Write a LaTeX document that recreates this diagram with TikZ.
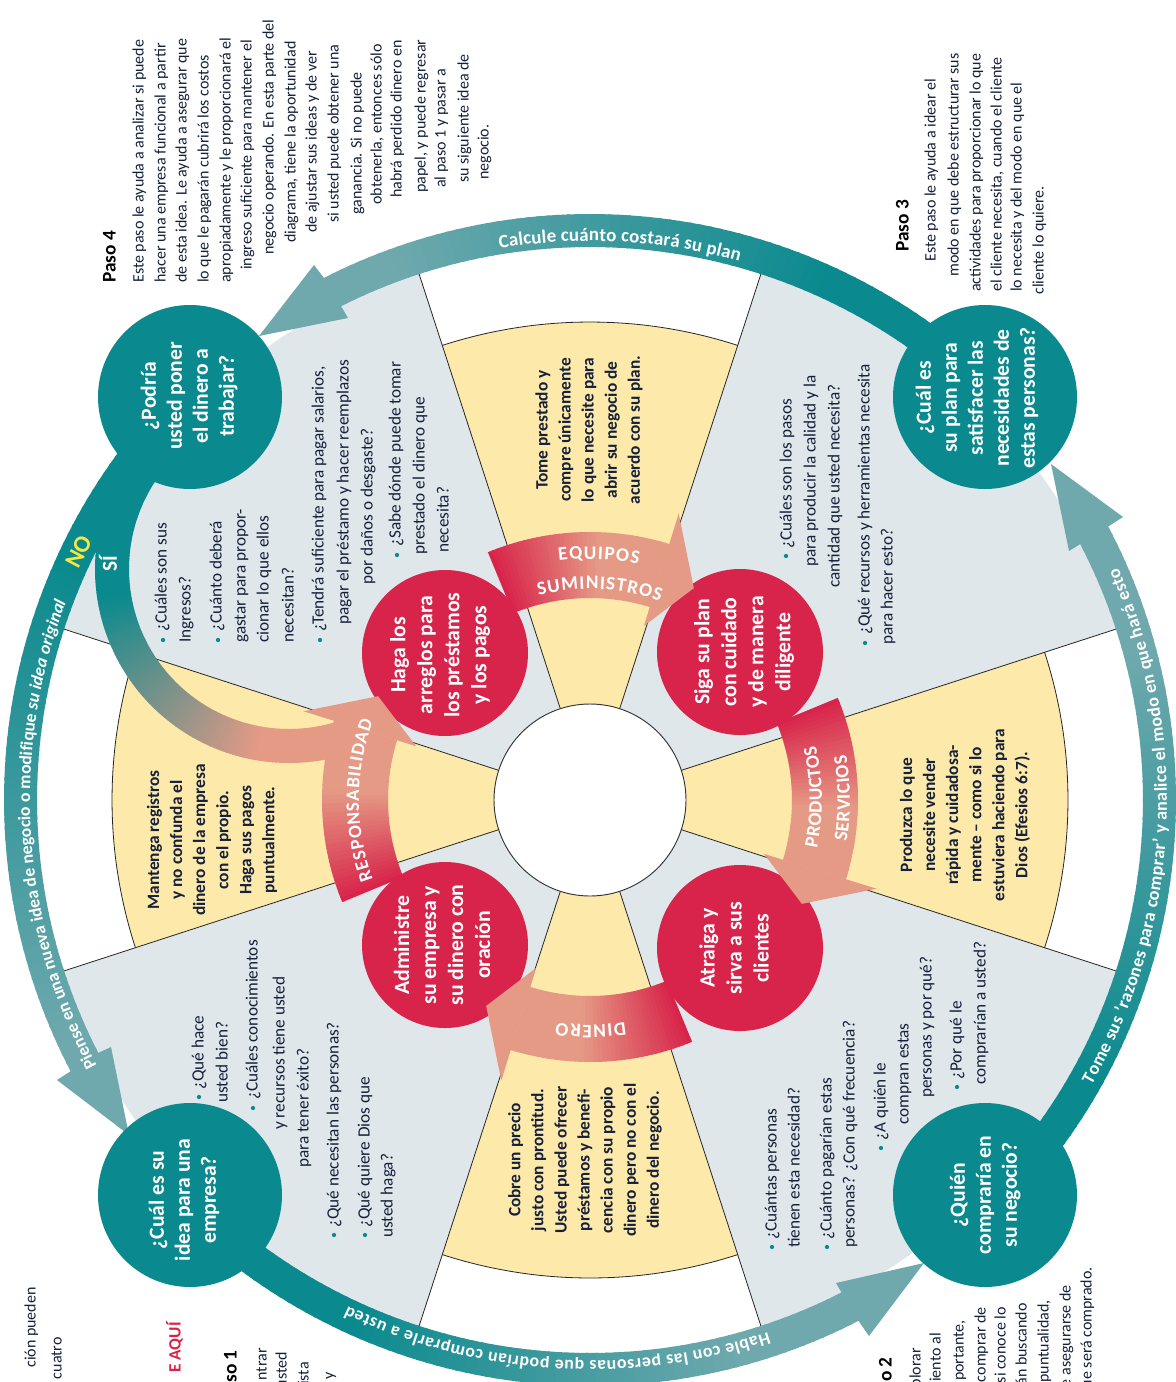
\documentclass[tikz,border=0pt]{standalone}
\usepackage{fontspec}
\setmainfont{Carlito}
\usetikzlibrary{decorations.text}
\definecolor{tealD}{HTML}{0A8A8E}
\definecolor{tealL}{HTML}{6FA9AE}
\definecolor{greyS}{HTML}{DFE7EB}
\definecolor{yellS}{HTML}{FDE9A9}
\definecolor{redC}{HTML}{D8244A}
\definecolor{salm}{HTML}{E59A85}
\definecolor{ink}{HTML}{15203A}
\definecolor{noY}{HTML}{F6E83C}
\def\ccx{590}
\def\ccy{800}
\newcount\lnum
% gradient band: r1 r2 a1 a2 g1 g2 c1 c2
\newcommand\gband[8]{%
  \pgfmathsetmacro\gA{#3}\pgfmathsetmacro\gB{#4}%
  \pgfmathsetmacro\gN{int(ceil(abs(\gB-\gA)))}%
  \pgfmathsetmacro\gD{(\gB-\gA)/\gN}%
  \pgfmathsetmacro\gP{#5}\pgfmathsetmacro\gQ{#6}%
  \foreach \gi in {1,...,\gN}{%
    \pgfmathsetmacro\gaa{\gA+(\gi-1)*\gD}%
    \pgfmathsetmacro\gbb{\gaa+1.25*\gD}%
    \pgfmathsetmacro\gmm{min(100,max(0,100*(\gaa-\gP)/(\gQ-\gP)))}%
    \fill[fill={#8!\gmm!#7}]
      ({\ccx+#1*cos(\gaa)},{\ccy+#1*sin(\gaa)}) --
      ({\ccx+#2*cos(\gaa)},{\ccy+#2*sin(\gaa)}) --
      ({\ccx+#2*cos(\gbb)},{\ccy+#2*sin(\gbb)}) --
      ({\ccx+#1*cos(\gbb)},{\ccy+#1*sin(\gbb)}) -- cycle;
  }}
\newcommand\salarrow[1]{%
  \gband{202}{268}{#1}{#1+39.4}{#1}{#1+24}{redC}{salm}%
  \fill[salm] ({\ccx+182*cos(#1+39.6)},{\ccy+182*sin(#1+39.6)}) --
    ({\ccx+236*cos(#1+48.5)},{\ccy+236*sin(#1+48.5)}) --
    ({\ccx+300*cos(#1+39.6)},{\ccy+300*sin(#1+39.6)}) -- cycle;}
\newcommand\arctxt[5]{%
  \path[decorate,decoration={text along path,text align={fit to path},
     text={|#4|#5}}]
     plot[domain=#2:#3,samples=90] ({\ccx+#1*cos(\x)},{\ccy+#1*sin(\x)});}
\newcommand\sector[2]{%
  \fill[#2] (\ccx,\ccy) -- plot[domain=#1-18:#1+18,samples=40] ({\ccx+478*cos(\x)},{\ccy+478*sin(\x)}) -- cycle;
  \draw[hair] plot[domain=#1-18:#1+18,samples=40] ({\ccx+478*cos(\x)},{\ccy+478*sin(\x)});}
\newcommand\corner[1]{%
  \fill[greyS] (\ccx,\ccy) -- plot[domain=#1-27:#1+27,samples=50] ({\ccx+556*cos(\x)},{\ccy+556*sin(\x)}) -- cycle;}
\newcommand\spoke[1]{\draw[hair] ({\ccx+90*cos(#1)},{\ccy+90*sin(#1)}) -- ({\ccx+556*cos(#1)},{\ccy+556*sin(#1)});}
% one printed line: x (centre), y (start), text
\newcommand\tl[4][body]{\global\advance\lnum by 1
  \node[#1,anchor=west] (ln\the\lnum) at (#2,#3) {#4};}
\newcommand\lin[3]{\tl[lst]{#1}{#2}{#3}}
% one printed line fixed by its end
\newcommand\te[4][body]{\global\advance\lnum by 1
  \node[#1,anchor=east] (ln\the\lnum) at (#2,#3) {#4};}
\newcommand\bul[2]{\fill[tealD] (#1,#2) circle (1.6pt);}
\tikzset{
  hair/.style={draw=black!85,line width=0.6pt},
  body/.style={rotate=90,inner sep=0pt,text=ink,font=\fontsize{12}{14}\selectfont,text height=8pt,text depth=2.5pt},
  lst/.style={body,font=\fontsize{12.9}{14}\selectfont},
  headg/.style={body,font=\fontsize{14.5}{16}\selectfont\bfseries,text=black},
  redtx/.style={body,font=\fontsize{13}{15}\selectfont\bfseries,text=redC},
  tealc/.style={circle,fill=tealD,minimum size=138pt,inner sep=0pt},
  tealt/.style={rotate=90,inner sep=0pt,align=center,text=white,font=\fontsize{16.2}{19.5}\selectfont\bfseries},
  redc/.style={circle,fill=redC,minimum size=124.5pt,inner sep=0pt},
  redt/.style={rotate=90,inner sep=0pt,align=center,text=white,font=\fontsize{16.3}{20.25}\selectfont\bfseries},
  yelltx/.style={rotate=90,align=center,inner sep=0pt,text=ink,font=\fontsize{13}{17.3}\selectfont\bfseries},
}
\begin{document}
\begin{tikzpicture}[x=0.75pt,y=-0.75pt]
\useasboundingbox (0,0) rectangle (1176,1382);
\clip (0,0) rectangle (1176,1382);
\fill[white] (0,0) rectangle (1176,1382);
% sectors
\corner{225}\corner{315}\corner{45}\corner{135}
\sector{270}{yellS}\sector{0}{yellS}\sector{90}{yellS}\sector{180}{yellS}
\foreach \a in {18,72,108,162,198,252,288,342}{\spoke{\a}}
\node[circle,fill=white,draw=black!80,line width=0.7pt,minimum size=144pt,inner sep=0pt] (hub) at (\ccx,\ccy) {};
% outer ring
\gband{553}{586}{314}{243}{295}{250}{tealD}{tealL}
\gband{553}{586}{225}{152.4}{205}{155}{tealD}{tealL}
\gband{553}{586}{135}{62.7}{115}{75}{tealD}{tealL}
\gband{553}{586}{45}{-27.8}{30}{-15}{tealD}{tealL}
\coordinate (t1) at (259,336);\coordinate (w1a) at (314,265);\coordinate (n1a) at (324,278);\coordinate (n1b) at (341,306);\coordinate (w1b) at (348,318);
\fill[tealL] (t1) -- (w1a) -- (n1a) -- (n1b) -- (w1b) -- cycle;
\coordinate (t2) at (129,1135);\coordinate (w2a) at (57,1080);\coordinate (n2a) at (71,1071);\coordinate (n2b) at (98,1053);\coordinate (w2b) at (111,1047);
\fill[tealL] (t2) -- (w2a) -- (n2a) -- (n2b) -- (w2b) -- cycle;
\coordinate (t3) at (924,1263);\coordinate (w3a) at (869,1336);\coordinate (n3a) at (860,1323);\coordinate (n3b) at (843,1295);\coordinate (w3b) at (836,1283);
\fill[tealL] (t3) -- (w3a) -- (n3a) -- (n3b) -- (w3b) -- cycle;
\coordinate (t4) at (1051,464);\coordinate (w4a) at (1123,517);\coordinate (n4a) at (1109,526);\coordinate (n4b) at (1082,543);\coordinate (w4b) at (1069,551);
\fill[tealL] (t4) -- (w4a) -- (n4a) -- (n4b) -- (w4b) -- cycle;
% SI band
\begin{scope}
\def\ccx{289}\def\ccy{569}
\gband{160}{194}{225}{72}{172}{100}{tealD}{salm}
\end{scope}
% teal circles
\node[tealc] (q4) at (190,397) {};
\node[tealc] (q3) at (985,397) {};
\node[tealc] (q1) at (190,1195) {};
\node[tealc] (q2) at (985,1195) {};
\node[tealt] (q4t) at (189,396) {¿Podría\\usted poner\\el dinero a\\trabajar?};
\node[tealt] (q3t) at (977,398) {¿Cuál es\\su plan para\\satisfacer las\\necesidades de\\estas personas?};
\node[tealt] (q1t) at (184,1200) {¿Cuál es su\\idea para una\\empresa?};
\node[tealt] (q2t) at (985,1195) {¿Quién\\compraría en\\su negocio?};
% red circles
\node[redc] (r1) at (445,653) {};
\node[redc] (r2) at (740,652) {};
\node[redc] (r3) at (740,948) {};
\node[redc] (r4) at (445,945) {};
\node[redt] (r1t) at (440,655) {Haga los\\arreglos para\\los préstamos\\y los pagos};
\node[redt] (r2t) at (744,652) {Siga su plan\\con cuidado\\y de manera\\diligente};
\node[redt] (r3t) at (734,948) {Atraiga y\\sirva a sus\\clientes};
\node[redt] (r4t) at (442,945) {Administre\\su empresa y\\su dinero con\\oración};
% salmon arrows
\salarrow{247.6}\salarrow{-22.4}\salarrow{157.6}
\begin{scope}
\def\ccy{794}
\salarrow{67.6}
\end{scope}
% ring texts
\def\rf{\bfseries\color{white}}
\arctxt{559}{260.7}{285.5}{\fontsize{14.2}{15}\selectfont\rf}{Calcule cuánto costará su plan}
\arctxt{560}{151.7}{200.7}{\fontsize{13.2}{15}\selectfont\rf}{Piense en una nueva idea de negocio o modifique |\fontsize{13.2}{15}\selectfont\itshape\rf|su idea original||}
\arctxt{561}{71.5}{115.6}{\fontsize{13.4}{15}\selectfont\rf}{Hable con las personas que podrían comprarle a usted}
\arctxt{577}{29.6}{-23.8}{\fontsize{13.6}{15}\selectfont\rf}{Tome sus 'razones para comprar' y analice el modo en que hará esto}
% inner arrow texts
\arctxt{241}{262.6}{281.6}{\fontsize{14.4}{15}\selectfont\rf}{EQUIPOS}
\arctxt{211}{255.9}{289.4}{\fontsize{14.4}{15}\selectfont\rf}{SUMINISTROS}
\arctxt{232}{12}{-13.6}{\fontsize{14.4}{15}\selectfont\rf}{PRODUCTOS}
\arctxt{260}{9.2}{-10}{\fontsize{14.4}{15}\selectfont\rf}{SERVICIOS}
\arctxt{225}{81}{98.6}{\fontsize{14.4}{15}\selectfont\rf}{DINERO}
\arctxt{231}{160}{200}{\fontsize{14.2}{15}\selectfont\rf}{RESPONSABILIDAD}
% NO / SI
\node[rotate=62,inner sep=0pt,text=noY,font=\fontsize{18}{20}\selectfont\bfseries] (no) at (79,552) {NO};
\node[rotate=90,inner sep=0pt,text=white,font=\fontsize{16}{18}\selectfont\bfseries] (si) at (108,564) {SÍ};
% yellow sector texts
\node[yelltx] (y1) at (589,430) {Tome prestado y\\compre únicamente\\lo que necesite para\\abrir su negocio de\\acuerdo con su plan.};
\node[yelltx] (y2) at (212,840) {Mantenga registros\\y no confunda el\\dinero de la empresa\\con el propio.\\Haga sus pagos\\puntualmente.};
\node[yelltx] (y3) at (965,815) {Produzca lo que\\necesite vender\\rápida y cuidadosa-\\mente – como si lo\\estuviera haciendo para\\Dios (Efesios 6:7).};
\node[yelltx] (y4) at (585,1160) {Cobre un precio\\justo con prontitud.\\Usted puede ofrecer\\préstamos y benefi-\\cencia con su propio\\dinero pero no con el\\dinero del negocio.};
% top-left list
\bul{163}{640}\lin{163}{632}{¿Cuáles son sus}
\lin{187}{643}{Ingresos?}
\bul{218}{640}\lin{218}{632}{¿Cuánto deberá}
\lin{242}{643}{gastar para propor-}
\lin{265}{643}{cionar lo que ellos}
\lin{290}{643}{necesitan?}
\bul{320}{640}\lin{320}{632}{¿Tendrá suficiente para pagar salarios,}
\lin{345}{625}{pagar el préstamo y hacer reemplazos}
\lin{369}{585}{por daños o desgaste?}
\bul{397}{555}\lin{397}{547}{¿Sabe dónde puede tomar}
\lin{421}{555}{prestado el dinero que}
\lin{445}{553}{necesita?}
% top-right list
\bul{786}{556}\lin{788}{549}{¿Cuáles son los pasos}
\lin{812}{567}{para producir la calidad y la}
\lin{836}{588}{cantidad que usted necesita?}
\bul{865}{643}\lin{866}{635}{¿Qué recursos y herramientas necesita}
\lin{889}{645}{para hacer esto?}
% bottom-left list
\bul{199}{1097}\lin{200}{1090}{¿Qué hace}
\lin{224}{1103}{usted bien?}
\bul{253}{1108}\lin{254}{1100}{¿Cuáles conocimientos}
\lin{281}{1130}{y recursos tiene usted}
\lin{305}{1168}{para tener éxito?}
\bul{334}{1235}\lin{335}{1228}{¿Qué necesitan las personas?}
\bul{365}{1235}\lin{366}{1228}{¿Qué quiere Dios que}
\lin{389}{1238}{usted haga?}
% bottom-right list
\bul{772}{1247}\lin{773}{1240}{¿Cuántas personas}
\lin{796}{1248}{tienen esta necesidad?}
\bul{827}{1247}\lin{828}{1240}{¿Cuánto pagarían estas}
\lin{851}{1248}{personas? ¿Con qué frecuencia?}
\bul{881}{1148}\lin{882}{1141}{¿A quién le}
\lin{905}{1125}{compran estas}
\lin{928}{1098}{personas y por qué?}
\bul{957}{1087}\lin{958}{1080}{¿Por qué le}
\lin{982}{1085}{comprarían a usted?}
% Paso 4
\tl[headg]{112}{283}{Paso 4}
\tl{140}{283}{Este paso le ayuda a analizar si puede}
\tl{162}{283}{hacer una empresa funcional a partir}
\tl{183}{283}{de esta idea. Le ayuda a asegurar que}
\tl{205}{283}{lo que le pagarán cubrirá los costos}
\tl{227}{283}{apropiadamente y le proporcionará el}
\tl{248}{270}{ingreso suficiente para mantener el}
\tl{270}{255}{negocio operando. En esta parte del}
\tl{292}{243}{diagrama, tiene la oportunidad}
\tl{313}{233}{de ajustar sus ideas y de ver}
\tl{335}{223}{si usted puede obtener una}
\tl{358}{215}{ganancia. Si no puede}
\tl{378}{205}{obtenerla, entonces sólo}
\tl{398}{198}{habrá perdido dinero en}
\tl{422}{193}{papel, y puede regresar}
\tl{442}{188}{al paso 1 y pasar a}
\tl{465}{183}{su siguiente idea de}
\tl{485}{180}{negocio.}
% Paso 3
\tl[headg]{905}{252}{Paso 3}
\tl{932}{262}{Este paso le ayuda a idear el}
\tl{955}{277}{modo en que debe estructurar sus}
\tl{977}{292}{actividades para proporcionar lo que}
\tl{998}{292}{el cliente necesita, cuando el cliente}
\tl{1018}{292}{lo necesita y del modo en que el}
\tl{1040}{295}{cliente lo quiere.}
% cropped fragments, bottom edge
\te{32}{1287}{ción pueden}
\te{58}{1337}{cuatro}
\te[redtx]{177}{1322}{E AQUÍ}
\te[headg]{233}{1350}{so 1}
\te{263}{1348}{ntrar}
\te{283}{1352}{usted}
\te{305}{1362}{ista}
\te{330}{1372}{y}
\te[headg]{888}{1357}{o 2}
\te{917}{1348}{plorar}
\te{937}{1333}{iento al}
\te{960}{1320}{portante,}
\te{982}{1307}{comprar de}
\te{1002}{1307}{si conoce lo}
\te{1023}{1303}{án buscando}
\te{1045}{1300}{puntualidad,}
\te{1067}{1285}{e asegurarse de}
\te{1088}{1267}{ue será comprado.}
\end{tikzpicture}
\end{document}
